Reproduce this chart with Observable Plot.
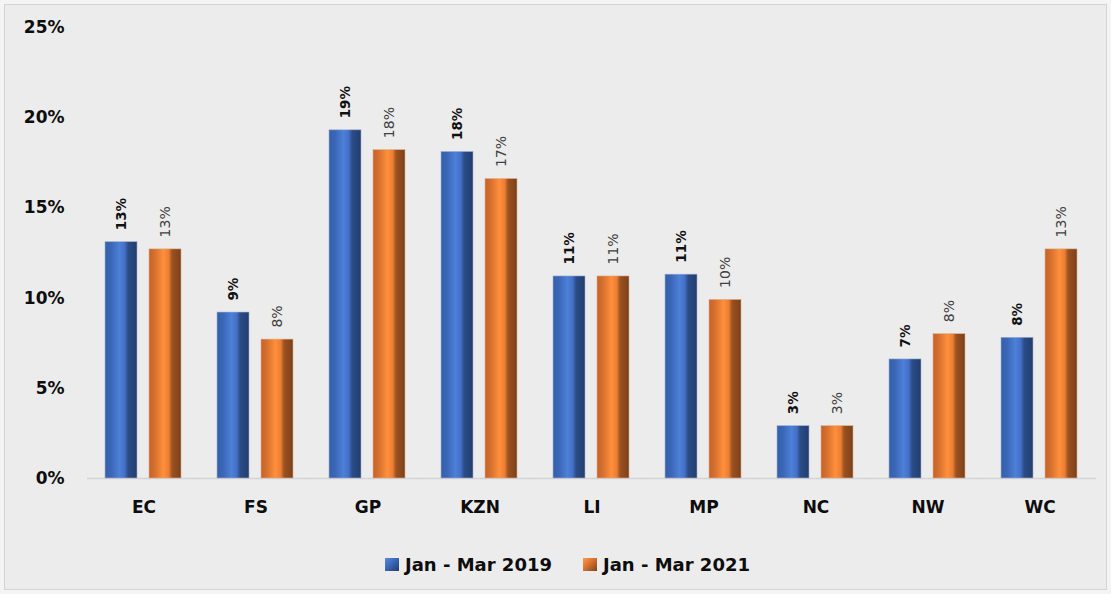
<!DOCTYPE html>
<html><head><meta charset="utf-8">
<script src="https://cdn.jsdelivr.net/npm/d3@7"></script>
<script src="https://cdn.jsdelivr.net/npm/@observablehq/plot@0.6"></script>
<style>
body{margin:0;background:#f4f4f4;width:1111px;height:594px;overflow:hidden;position:relative;font-family:"DejaVu Sans",sans-serif}
#frame{position:absolute;left:4px;top:4px;width:1101px;height:584px;background:#ececec;border:1px solid #d4d4d4}
#chart{position:absolute;left:0;top:0}
#legend{position:absolute;top:554px;left:0;width:1111px;height:24px}
.item{position:absolute;top:0;display:flex;align-items:center;font-weight:bold;font-size:18px;color:#0d0d0d;white-space:nowrap}
.sw{width:14px;height:13px;margin-right:6px}
</style></head>
<body>
<div id="frame"></div>
<div id="chart"></div>
<div id="legend"></div>
<script>
const categories = ["EC","FS","GP","KZN","LI","MP","NC","NW","WC"];
const series = ["Jan - Mar 2019","Jan - Mar 2021"];
const values2019 = [0.131,0.092,0.193,0.181,0.112,0.113,0.029,0.066,0.078];
const values2021 = [0.127,0.077,0.182,0.166,0.112,0.099,0.029,0.080,0.127];
const yTicks = [0,0.05,0.10,0.15,0.20,0.25];

const data = categories.flatMap((c,i)=>[
  {cat:c, series:series[0], value:values2019[i]},
  {cat:c, series:series[1], value:values2021[i]}
]);
const d19 = data.filter(d=>d.series===series[0]);
const d21 = data.filter(d=>d.series===series[1]);
const fmt = d3.format(".0%");

const plot = Plot.plot({
  width:1111, height:530,
  marginTop:27, marginBottom:52, marginLeft:86, marginRight:15,
  style:{background:"transparent", fontFamily:"DejaVu Sans", overflow:"visible"},
  fx:{domain:categories, paddingInner:0.315, paddingOuter:0.16, label:null},
  x:{domain:series, paddingInner:0.27, paddingOuter:0, axis:null},
  y:{domain:[0,0.25], label:null},
  marks:[
    Plot.ruleY([0], {stroke:"#d3d3d3", strokeWidth:1.5, insetLeft:-18, insetRight:-18}),
    Plot.axisY({ticks:yTicks, tickFormat:fmt, tickSize:0, tickPadding:41, fontSize:17, fontWeight:"bold", fill:"#0d0d0d", label:null}),
    Plot.axisFx({anchor:"bottom", tickSize:0, tickPadding:22, fontSize:17, fontWeight:"bold", fill:"#0d0d0d", label:null}),
    Plot.barY(d19, {fx:"cat", x:"series", y:"value", fill:"url(#gBlue)", stroke:"#9fb0d0", strokeWidth:0.6}),
    Plot.barY(d21, {fx:"cat", x:"series", y:"value", fill:"url(#gOrange)", stroke:"#d8b090", strokeWidth:0.6}),
    Plot.text(d19, {fx:"cat", x:"series", y:"value", text:d=>fmt(d.value), rotate:-90, textAnchor:"start", lineAnchor:"middle", dy:-12, fontSize:13.5, fontWeight:"bold", fill:"#111"}),
    Plot.text(d21, {fx:"cat", x:"series", y:"value", text:d=>fmt(d.value), rotate:-90, textAnchor:"start", lineAnchor:"middle", dy:-12, fontSize:14, fill:"#404040"})
  ]
});

d3.select(plot).insert("defs", ":first-child").html(`
<linearGradient id="gBlue" x1="0" x2="1" y1="0" y2="0">
  <stop offset="0" stop-color="#3560ab"/>
  <stop offset="0.2" stop-color="#3b67b8"/>
  <stop offset="0.45" stop-color="#4e80d9"/>
  <stop offset="0.62" stop-color="#4270c4"/>
  <stop offset="0.72" stop-color="#2c4c88"/>
  <stop offset="1" stop-color="#223d6e"/>
</linearGradient>
<linearGradient id="gOrange" x1="0" x2="1" y1="0" y2="0">
  <stop offset="0" stop-color="#c4622a"/>
  <stop offset="0.2" stop-color="#d9722f"/>
  <stop offset="0.45" stop-color="#ff8f3c"/>
  <stop offset="0.62" stop-color="#ec7d33"/>
  <stop offset="0.72" stop-color="#9a5221"/>
  <stop offset="1" stop-color="#7c401a"/>
</linearGradient>`);
document.getElementById("chart").appendChild(plot);

const legend = document.getElementById("legend");
const swatches = [
  {label:series[0], left:385, bg:"linear-gradient(135deg,#5a8ae0 0%,#3b67b8 45%,#223d6e 100%)"},
  {label:series[1], left:583, bg:"linear-gradient(135deg,#ff9a4c 0%,#d9722f 45%,#7c401a 100%)"}
];
for (const s of swatches) {
  const it = document.createElement("div");
  it.className = "item";
  it.style.left = s.left + "px";
  const sw = document.createElement("div");
  sw.className = "sw";
  sw.style.background = s.bg;
  const tx = document.createElement("span");
  tx.textContent = s.label;
  it.appendChild(sw); it.appendChild(tx);
  legend.appendChild(it);
}
</script>
</body></html>
